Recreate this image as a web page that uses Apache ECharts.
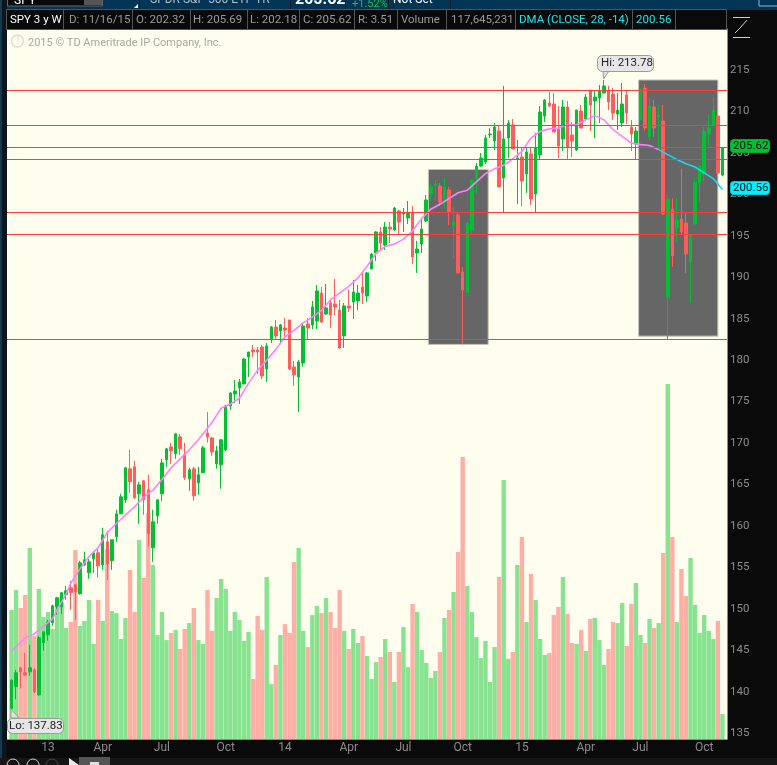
<!DOCTYPE html>
<html>
<head>
<meta charset="utf-8">
<title>SPY 3 y W</title>
<style>
  html, body { margin: 0; padding: 0; background: #0a0a0a; overflow: hidden; }
  #main { width: 777px; height: 765px; }
</style>
<script src="https://cdn.jsdelivr.net/npm/echarts@6/dist/echarts.min.js"></script>
</head>
<body>
<div id="main"></div>
<script>
// weekly candles
var opens = [138.0,140.64,142.89,142.29,142.41,142.65,139.64,145.91,146.87,148.32,150.25,150.25,151.7,152.54,152.9,151.82,155.31,154.35,156.04,156.76,155.31,158.09,155.8,158.69,161.46,163.15,166.89,167.13,163.88,165.44,164.36,157.36,161.22,163.88,167.98,169.54,168.7,170.75,168.58,165.68,166.89,165.2,166.41,171.22,170.62,167.49,167.37,169.17,174.48,175.92,176.65,177.13,180.39,181.23,181.23,181.59,178.94,182.56,184.0,183.52,183.88,184.85,179.18,177.97,179.66,184.37,184.25,184.73,188.1,185.57,186.9,186.78,186.05,182.92,186.54,187.02,187.14,188.83,187.74,191.0,192.93,195.46,193.89,196.06,195.7,197.99,197.63,197.15,197.87,192.93,194.02,196.79,200.05,201.01,201.01,199.44,200.53,196.19,197.51,190.64,188.15,195.7,201.85,203.42,203.9,207.2,206.44,207.64,201.98,206.8,208.37,204.27,204.51,202.46,204.87,200.05,204.75,209.45,211.02,210.9,207.88,206.68,210.54,207.16,205.35,210.06,209.09,212.59,211.26,211.62,212.22,212.46,212.1,209.69,208.61,211.98,208.12,206.07,208.97,212.83,206.92,210.54,209.33,208.85,187.5,198.23,195.94,197.03,196.55,191.84,196.43,201.37,202.45,207.28,208.36,209.45,202.32];
var closes = [141.4,142.29,142.41,142.01,142.89,140.0,146.51,147.23,148.44,150.37,151.33,151.94,152.18,151.94,152.06,155.55,155.92,155.67,156.76,155.19,158.93,155.43,158.33,161.46,163.51,167.01,165.32,163.39,164.96,163.15,159.05,160.5,163.15,167.61,169.3,169.06,171.11,169.3,165.81,166.77,163.63,166.17,169.42,170.74,168.93,169.06,170.39,174.48,176.04,176.28,177.37,180.14,180.99,180.99,180.99,178.09,181.71,184.0,182.92,184.25,183.64,178.94,178.22,179.78,184.12,183.88,186.42,188.35,184.61,186.3,185.45,186.42,181.47,186.54,186.3,188.22,188.1,188.1,190.52,192.81,195.46,194.13,196.06,195.82,198.36,196.67,197.75,197.75,192.45,193.41,195.82,199.32,200.89,201.25,199.08,200.89,197.87,196.67,190.52,188.47,196.55,201.73,203.42,204.39,206.8,207.28,208.13,200.89,206.68,208.61,205.47,204.39,201.61,205.11,199.44,205.59,209.93,211.38,210.66,207.52,205.83,210.54,205.71,206.44,210.18,208.0,211.74,210.78,211.74,212.46,213.07,211.14,209.81,210.17,210.9,209.81,207.28,207.64,212.46,208.0,210.66,208.0,209.57,197.63,199.44,192.57,196.91,195.46,192.81,195.1,201.49,203.42,207.64,208.0,210.17,202.57,205.62];
var lows = [137.83,139.11,140.4,141.93,141.93,139.84,139.51,144.94,146.15,147.96,149.28,149.4,151.09,149.89,148.68,151.7,155.19,153.62,154.35,153.75,154.71,153.5,154.71,158.09,161.46,162.79,164.0,163.27,160.26,161.34,157.48,155.67,160.26,163.03,167.13,167.49,168.1,168.58,165.56,164.24,163.03,163.75,166.41,170.05,168.45,166.89,164.48,169.05,174.0,174.8,174.72,177.13,177.97,180.39,178.34,177.73,177.37,182.07,182.56,182.07,182.56,178.82,176.89,173.75,179.22,182.56,183.76,183.76,184.49,185.45,183.88,185.45,181.35,181.47,185.81,184.97,186.05,186.78,187.02,191.0,191.96,193.17,193.29,194.13,195.58,195.22,195.46,196.43,191.6,190.52,192.93,196.67,199.2,199.32,198.6,198.36,196.31,192.33,190.52,181.96,188.15,195.1,200.05,203.3,203.66,206.8,205.35,200.89,197.87,204.39,205.47,198.84,198.6,200.17,198.72,197.87,204.27,208.73,210.54,207.52,204.39,205.23,204.27,204.51,205.23,208.0,208.97,207.64,206.8,208.61,212.22,210.17,208.97,207.76,208.12,208.49,205.23,204.26,208.97,207.64,206.44,206.92,205.47,197.51,182.56,191.28,194.25,195.22,190.52,186.9,196.43,198.96,201.61,205.95,208.24,202.45,202.18];
var highs = [141.5,142.65,142.97,144.7,145.67,142.85,146.75,147.23,148.68,150.49,151.45,152.06,152.78,153.38,153.02,155.8,156.88,156.04,157.0,157.36,159.78,159.41,158.33,161.95,163.88,167.13,169.18,167.86,165.32,165.56,166.17,161.95,163.15,168.1,169.42,170.03,171.11,171.11,170.03,167.01,167.13,167.13,169.66,173.75,170.74,169.66,170.51,174.6,176.16,177.61,177.73,180.26,180.99,181.83,181.59,181.83,182.07,184.12,184.85,184.37,185.09,184.85,179.9,180.02,184.37,185.09,187.14,189.07,188.83,189.19,187.26,189.79,187.26,186.9,188.47,189.67,189.07,190.52,190.64,192.93,195.58,196.06,196.67,196.67,198.48,198.11,198.36,199.2,198.6,194.38,196.91,199.93,201.25,201.73,201.37,201.98,200.89,198.48,197.75,191.24,196.67,201.85,203.78,204.99,207.16,208.0,208.61,208.25,213.07,208.97,209.09,206.56,205.71,205.59,205.59,207.4,210.66,211.5,212.35,212.23,210.66,211.38,211.26,208.73,210.18,210.78,212.11,212.59,212.59,213.19,213.78,213.07,212.83,212.22,213.43,212.59,208.97,208.12,212.83,213.31,211.62,211.38,210.78,210.78,199.92,199.56,199.56,203.06,197.75,195.1,201.97,203.42,208.12,209.57,211.74,209.45,205.69];
// volume in millions of shares
var volumes = [606,700,616,677,898,484,705,573,597,517,625,644,522,550,888,531,555,653,447,653,555,893,602,592,470,569,794,597,935,757,1062,818,489,597,465,498,512,423,517,545,616,465,447,700,508,663,752,705,508,597,559,461,503,282,578,512,761,258,348,489,540,498,832,898,508,432,583,625,592,663,597,522,700,508,423,517,451,484,390,282,362,385,470,409,268,409,526,338,635,597,418,357,287,320,409,569,606,691,879,1325,719,597,479,381,461,268,432,761,1217,376,409,818,949,550,776,653,470,395,404,583,620,761,588,451,447,512,414,564,569,465,348,423,550,545,639,437,635,733,489,451,564,522,545,874,1669,949,550,799,672,851,630,498,583,508,470,555,118];
// displaced moving average, read at the weeks listed in maWeeks
var maWeeks = [0,3,5,7,9,10,12,13,15,17,19,21,23,25,27,29,31,33,35,37,39,41,43,44,46,48,50,52,54,56,58,60,62,64,66,68,70,72,74,76,78,80,82,84,86,88,90,92,94,96,98,100,102,104,106,108,110,112,114,116,118,120,122,124,126,128,130,132,134,136,138,140,142,144,146,148,150,152,154,156];
var maValues = [144.9,146.5,147.0,147.9,148.8,149.9,151.8,153.1,154.8,156.3,157.4,159.2,160.3,161.3,162.3,163.5,164.3,165.6,167.0,168.1,169.2,170.4,171.8,172.5,174.2,174.7,175.4,177.2,178.8,180.0,181.3,182.8,183.6,184.5,185.2,186.0,187.3,188.1,188.9,189.9,191.3,192.9,193.7,194.0,194.6,195.6,197.1,198.2,198.8,199.5,200.2,200.5,201.5,202.5,203.1,203.5,204.3,205.2,206.8,207.6,207.9,208.0,208.4,208.4,209.0,209.5,209.0,207.8,207.0,206.2,206.0,205.9,205.4,204.8,204.2,203.7,203.3,202.6,201.9,200.6];
var maColorChange = 142;
var supportLevels = [212.55,208.33,205.68,204.24,197.85,195.2,182.5];
var boxLeft = [91.47,137.6], boxRight = [104.6,155.0], boxTop = [203.0,213.8], boxBottom = [181.9,182.9];
var priceTicks = [135,140,145,150,155,160,165,170,175,180,185,190,195,200,205,210,215];
var tickWeeks = [8,20,33,47,60,74,86,99,112,126,138,152];
var tickNames = ['13','Apr','Jul','Oct','14','Apr','Jul','Oct','15','Apr','Jul','Oct'];

var headerCells = [
  [10, 'SPY 3 y W', '#ffffff'], [69, 'D: 11/16/15', '#9a9a9a'], [136, 'O: 202.32', '#9a9a9a'],
  [193, 'H: 205.69', '#9a9a9a'], [250, 'L: 202.18', '#9a9a9a'], [303, 'C: 205.62', '#9a9a9a'],
  [358, 'R: 3.51', '#9a9a9a'], [401, 'Volume', '#9a9a9a'], [451, '117,645,231', '#9a9a9a'],
  [519, 'DMA (CLOSE, 28, -14)', '#19e6f0'], [636, '200.56', '#19e6f0']
];
var headerDividers = [63,132,190,247,299,354,397,446,515,632,675];

var GREEN = '#02bf34', RED = '#ff5c5c', VOL_GREEN = '#88e391', VOL_RED = '#ffaea6';
var FONT = 'Roboto, "Open Sans", sans-serif';

var categories = [''];
var d = new Date(Date.UTC(2012, 10, 19));
for (var i = 0; i < opens.length; i++) {
  categories.push(d.toISOString().slice(0, 10));
  d = new Date(d.getTime() + 7 * 864e5);
}
categories.push('');

var tickLabels = {};
tickWeeks.forEach(function (w, i) { tickLabels[w + 1] = tickNames[i]; });

var candleData = [['-', '-', '-', '-']];
var volumeData = ['-'];
opens.forEach(function (o, i) {
  candleData.push([o, closes[i], lows[i], highs[i]]);
  volumeData.push({ value: volumes[i], itemStyle: { color: closes[i] >= o ? VOL_GREEN : VOL_RED } });
});
candleData.push(['-', '-', '-', '-']);
volumeData.push('-');

var maPink = categories.map(function () { return null; });
var maCyan = categories.map(function () { return null; });
maWeeks.forEach(function (w, i) {
  if (w <= maColorChange) maPink[w + 1] = maValues[i];
  if (w >= maColorChange) maCyan[w + 1] = maValues[i];
});

var boxes = boxLeft.map(function (l, i) {
  return [{ xAxis: l, yAxis: boxTop[i] }, { xAxis: boxRight[i], yAxis: boxBottom[i] }];
});

function text(x, y, s, color, size, extra) {
  var st = { x: x, y: y, text: s, fill: color, font: (size || 11) + 'px ' + FONT, textVerticalAlign: 'middle' };
  for (var k in extra) st[k] = extra[k];
  return { type: 'text', z: 50, silent: true, style: st };
}
function rect(x, y, w, h, fill, stroke, r) {
  return { type: 'rect', z: 49, silent: true, shape: { x: x, y: y, width: w, height: h, r: r || 0 },
    style: { fill: fill, stroke: stroke || null, lineWidth: 1 } };
}
function line(x1, y1, x2, y2, color) {
  return { type: 'line', z: 49, silent: true, shape: { x1: x1, y1: y1, x2: x2, y2: y2 }, style: { stroke: color, lineWidth: 1 } };
}
function poly(points, fill, stroke) {
  return { type: 'polygon', z: 49, silent: true, shape: { points: points }, style: { fill: fill, stroke: stroke || null, lineWidth: 1 } };
}

var g = [];
// top strip, cut off by the window
g.push(rect(0, 0, 777, 10, '#003556'));
g.push(rect(7.5, -3, 95, 9, '#0a0a0a', '#666'));
g.push(rect(84, -3, 18, 8, '#555'));
g.push(text(14, 1, 'SPY', '#ffffff', 12));
g.push(poly([[134, 8], [138, 4], [138, 8]], '#ffffff'));
g.push(line(139.5, 0, 139.5, 10, '#0a1a26'));
g.push(line(290.5, 0, 290.5, 10, '#0a1a26'));
g.push(line(345.5, 0, 345.5, 10, '#0a1a26'));
g.push(line(388.5, 0, 388.5, 10, '#0a1a26'));
g.push(line(450.5, 0, 450.5, 10, '#0a1a26'));
g.push(text(150, 0, 'SPDR S&P 500 ETF TR', '#b0bec5', 12));
g.push(text(295, 0, '205.62', '#ffffff', 16, { font: 'bold 16px Roboto, sans-serif' }));
g.push(text(352, 4, '+1.52%', '#19c24a', 11));
g.push(text(393, 0, 'Not Set', '#ffffff', 12));
g.push(rect(759, -3, 20, 9, '#003556', '#9fb4c0'));
// left edge
g.push(rect(0, 0, 7, 765, '#0c151b'));
g.push(rect(0, 0, 2, 765, '#123a50'));
// legend row
g.push(rect(6.5, 9.5, 720, 20, '#0a0a0a', '#555'));
headerDividers.forEach(function (x) { g.push(line(x + 0.5, 10, x + 0.5, 29, '#555')); });
headerCells.forEach(function (c) { g.push(text(c[0], 20, c[1], c[2], 11.5)); });
// study icon, top right
g.push(line(733, 17.5, 750, 17.5, '#cfcfcf'));
g.push(line(733, 37.5, 750, 37.5, '#cfcfcf'));
g.push(line(735, 33, 741, 27, '#cfcfcf'));
g.push(line(741, 27, 747, 20, '#cfcfcf'));
// watermark
g.push({ type: 'circle', z: 49, silent: true, shape: { cx: 17.5, cy: 41, r: 6 }, style: { fill: null, stroke: '#dcdcd0', lineWidth: 1.5 } });
g.push(text(16.5, 41, '!', '#dcdcd0', 11));
g.push(text(28, 43, '2015 © TD Ameritrade IP Company, Inc.', '#a8a8a0', 11, { font: '11px Roboto, sans-serif' }));
// high / low callouts
g.push(poly([[603, 71], [603.5, 79], [609, 71]], '#e2e2e2', '#999'));
g.push(rect(597.5, 55.5, 56, 16, '#e6e6e6', '#9a9a9a', 5));
g.push(text(601, 63.5, 'Hi: 213.78', '#222', 11.5));
g.push(poly([[11, 709], [11, 718], [19, 718]], '#e2e2e2', '#999'));
g.push(rect(7.5, 718.5, 56, 15, '#e6e6e6', '#9a9a9a', 5));
g.push(text(9, 726, 'Lo: 137.83', '#222', 11.5));
// last price tags
g.push(rect(730.5, 139.5, 39, 13, '#02bf34', '#02a82e', 3));
g.push(text(733, 146, '205.62', '#0a0a0a', 11.5));
g.push(rect(730.5, 181.5, 39, 13, '#00f0ff', '#00c8d8', 3));
g.push(text(733, 188, '200.56', '#0a0a0a', 11.5));
// toolbar under the chart
g.push(rect(0, 758, 777, 7, '#161616'));
[13, 33, 52].forEach(function (x, i) {
  g.push({ type: 'circle', z: 49, silent: true, shape: { cx: x, cy: 765, r: 6 }, style: { fill: null, stroke: i < 2 ? '#cfcfcf' : '#444', lineWidth: 1 } });
});
g.push(poly([[69, 758], [69, 765], [79, 765]], '#e8e8e8'));
g.push(rect(79, 757, 31, 8, '#555'));
g.push(rect(90, 762, 9, 3, '#e0e0e0'));

var chart = echarts.init(document.getElementById('main'));
chart.setOption({
  animation: false,
  backgroundColor: '#0a0a0a',
  textStyle: { fontFamily: FONT },
  grid: { left: 7, right: 50, top: 29, bottom: 26, show: true, backgroundColor: '#fffeee', borderWidth: 0, containLabel: false },
  xAxis: [
    {
      type: 'category', data: categories, boundaryGap: false,
      axisLine: { show: true, onZero: false, lineStyle: { color: '#8a8a8a' } },
      axisTick: { show: false }, splitLine: { show: false },
      axisLabel: {
        color: '#8c8c8c', fontSize: 12, margin: 3,
        interval: function (idx) { return tickLabels[idx] !== undefined; },
        formatter: function (v, idx) { return tickLabels[idx] || ''; }
      }
    },
    { type: 'value', min: -1, max: 157, show: false, splitLine: { show: false } }
  ],
  yAxis: [
    {
      type: 'value', position: 'right', min: 134.3, max: 219.95, scale: true,
      axisLine: { show: true, onZero: false, lineStyle: { color: '#8a8a8a' } },
      axisTick: { show: false }, splitLine: { show: false },
      axisLabel: { color: '#8c8c8c', fontSize: 11.5, margin: 3, customValues: priceTicks }
    },
    { type: 'value', min: 0, max: 3337, show: false, splitLine: { show: false } }
  ],
  series: [
    {
      name: 'Boxes', type: 'line', xAxisIndex: 1, yAxisIndex: 0, data: [], z: 1, silent: true,
      markArea: {
        silent: true, z: 1,
        itemStyle: { color: '#666666', borderColor: '#c4c4ba', borderWidth: 1, opacity: 1 },
        label: { show: false }, data: boxes
      }
    },
    { name: 'Volume', type: 'bar', xAxisIndex: 0, yAxisIndex: 1, data: volumeData, barWidth: 4.4, z: 1, silent: true },
    {
      name: 'SPY', type: 'candlestick', xAxisIndex: 0, yAxisIndex: 0, data: candleData, barWidth: 3, z: 3, silent: true,
      itemStyle: { color: GREEN, color0: RED, borderColor: GREEN, borderColor0: RED, borderWidth: 1 }
    },
    {
      name: 'DMA', type: 'line', data: maPink, connectNulls: true, symbol: 'none', z: 4, silent: true,
      lineStyle: { color: '#ff80ff', width: 1.6 }
    },
    {
      name: 'DMA recent', type: 'line', data: maCyan, connectNulls: true, symbol: 'none', z: 4, silent: true,
      lineStyle: { color: '#19d8ee', width: 1.6 }
    },
    {
      name: 'Levels', type: 'line', data: [], z: 5, silent: true,
      markLine: {
        silent: true, z: 5, symbol: 'none', animation: false, label: { show: false },
        lineStyle: { color: '#ff3c3c', width: 1, type: 'solid' },
        data: supportLevels.map(function (v) { return { yAxis: v }; })
      }
    }
  ],
  graphic: g
});
</script>
</body>
</html>
